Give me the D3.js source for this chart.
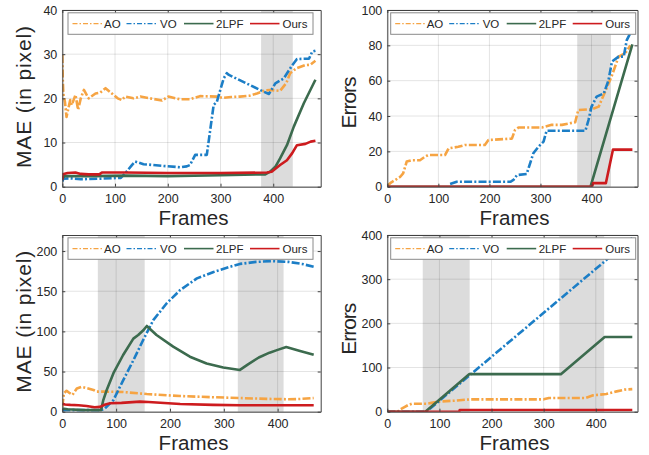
<!DOCTYPE html>
<html>
<head>
    <meta charset="utf-8">
    <script src="https://d3js.org/d3.v7.min.js"></script>
    <style>
        body { margin: 0; background: #fff; }
        svg { display: block; }
        text { font-family: "Liberation Sans", Arial, sans-serif; fill: #262626; }
    </style>
</head>
<body>
    <div id="chart"></div>
    <script>
        // series names and legend
        const seriesNames = ["AO", "VO", "2LPF", "Ours"];
        const xTicks = [0, 100, 200, 300, 400];

        // top left: MAE, sequence 1  [frame, value]
        const mae1AO = [[0,29.8],[1,24],[2,21],[5,19.2],[8,15.8],[12,18],[15,19.6],[18,18.5],[25,20.8],[30,17.4],[35,20],[41,21.9],[50,20],[63,21.1],[72,21.3],[82,22.3],[94,21.1],[105,20],[113,19.6],[119,20.4],[135,20],[148,20.4],[167,20],[189,19.5],[201,20.4],[223,19.8],[242,19.8],[261,20.5],[293,20.4],[305,20.1],[320,20.3],[337,20.4],[355,20.6],[369,21.1],[385,21.8],[394,21.9],[413,21.7],[425,23.5],[432,25.7],[444,26.8],[460,27.5],[470,27.6],[480,28.5]];
        const mae1VO = [[0,1.2],[2,1.8],[15,1.9],[35,1.7],[67,1.8],[111,2],[119,3],[132,4.9],[138,5.7],[154,5.1],[192,4.7],[223,4.4],[236,4.6],[242,4.9],[252,7.2],[274,7.2],[287,18.5],[293,19.2],[306,24.5],[312,25.7],[316,25.3],[382,21.5],[392,21],[404,23.4],[420,24.5],[436,27.5],[445,28.9],[468,29],[474,30.6],[480,30.8]];
        const mae1LPF = [[0,2],[5,2.4],[60,2.4],[120,2.5],[200,2.4],[300,2.6],[385,2.8],[394,3.4],[404,4.5],[413,6.4],[426,9.4],[439,13.6],[458,18.9],[480,24.2]];
        const mae1Ours = [[0,1.5],[1,2.8],[10,3.1],[25,3.2],[35,2.9],[50,2.8],[70,2.8],[75,3.2],[120,3.2],[200,3.1],[300,3.1],[388,3.2],[397,3.4],[413,4.9],[426,6],[436,7.6],[445,9.4],[461,9.7],[471,10.2],[480,10.4]];
        const mae1Shade = [[377, 437]];

        // top right: errors, sequence 1
        const err1AO = [[0,0.5],[8,2.5],[25,5.5],[31,7.5],[38,14.2],[48,15],[64,15],[74,17],[80,17.9],[113,17.9],[120,21.7],[139,22.6],[152,23.6],[191,23.6],[198,26.4],[244,27.2],[250,32],[257,33.5],[303,33.5],[322,35],[342,35],[368,36.5],[374,43.4],[400,43.8],[414,45.3],[424,52],[440,63],[453,73.6],[466,75.5],[476,80]];
        const err1VO = [[123,1.5],[136,2.8],[241,2.8],[247,3.8],[254,6.6],[273,7.2],[286,18.9],[296,22.6],[306,25.5],[312,31.7],[388,31.7],[394,37.7],[400,45.3],[410,51],[424,52.8],[433,60],[440,70.8],[453,73.6],[463,73.6],[469,83],[476,87]];
        const err1LPF = [[0,0],[398,0],[480,80.5]];
        const err1Ours = [[0,0],[401,0],[403,2],[428,2],[442,21],[480,21]];
        const err1Shade = [[372, 438]];

        // bottom left: MAE, sequence 2
        const mae2AO = [[0,6],[3,23],[8,26],[14,23],[19,21],[27,29],[36,31],[48,29],[58,27],[64,25],[80,25],[113,24.5],[157,22],[219,19.5],[281,18],[330,17],[380,16],[420,15.5],[440,15.8],[467,17]];
        const mae2VO = [[0,2],[72,2],[79,4],[95,14.5],[113,39],[132,64],[150,89],[169,114],[194,135],[219,151.5],[250,166],[281,174],[312,180.5],[330,184],[360,186.5],[390,187.5],[420,186.5],[445,184],[467,180.5]];
        const mae2LPF = [[0,4],[10,3],[40,2],[72,2],[76,14],[82.5,27],[95,48],[113,70.6],[132,91],[141,95.5],[150,101],[157,106.7],[175,95.5],[206,81],[237,68.5],[268,60],[299,55],[330,52],[345,59],[365,67.5],[385,73.5],[400,77],[416,80.5],[440,76],[467,71]];
        const mae2Ours = [[0,10],[5,9],[15,8.5],[30,8],[45,7],[60,5.5],[70,6],[80,9],[89,10.5],[110,11],[144,12.5],[160,12],[219,9.5],[280,8.5],[330,8],[400,8],[467,8]];
        const mae2Shade = [[66, 153], [326, 411]];

        // bottom right: errors, sequence 2
        const err2AO = [[0,0],[20,0],[25,5],[32,10],[40,15],[47,18],[75,18],[85,20],[100,23],[130,25],[160,28],[300,28],[310,31],[380,31],[395,37],[420,40],[440,46],[455,50],[470,51]];
        const err2VO = [[0,0],[75,0],[470,393]];
        const err2LPF = [[0,0],[73,0],[157,85],[333,85],[417,169],[470,169]];
        const err2Ours = [[0,0],[138,0],[139,4],[470,4]];
        const err2Shade = [[68, 158], [330, 416]];

        const colors = { "AO": "#F6A443", "VO": "#1C7EC6", "2LPF": "#3C6B4E", "Ours": "#CD1B1E" };
        const dashes = { "AO": "8,2.2,2,2.2", "VO": "8,2.2,2,2.2", "2LPF": null, "Ours": null };

        const panels = [
            { left: 62.3, right: 320.7, top: 10, bottom: 186.7, xMax: 490, yMax: 40, yTicks: [0,10,20,30,40],
              yLabel: "MAE (in pixel)", yLabelLen: 142, yLabelY: 97, shade: mae1Shade,
              data: [mae1AO, mae1VO, mae1LPF, mae1Ours] },
            { left: 387.3, right: 637.5, top: 10, bottom: 186.7, xMax: 490, yMax: 100, yTicks: [0,20,40,60,80,100],
              yLabel: "Errors", yLabelLen: 52, yLabelY: 102.5, shade: err1Shade,
              data: [err1AO, err1VO, err1LPF, err1Ours] },
            { left: 62.3, right: 320.7, top: 235, bottom: 411.7, xMax: 480, yMax: 220, yTicks: [0,50,100,150,200],
              yLabel: "MAE (in pixel)", yLabelLen: 142, yLabelY: 321.7, shade: mae2Shade,
              data: [mae2AO, mae2VO, mae2LPF, mae2Ours] },
            { left: 387.3, right: 637.5, top: 235, bottom: 411.7, xMax: 480, yMax: 400, yTicks: [0,100,200,300,400],
              yLabel: "Errors", yLabelLen: 52, yLabelY: 328.7, shade: err2Shade,
              data: [err2AO, err2VO, err2LPF, err2Ours] }
        ];

        const svg = d3.select("#chart")
            .append("svg")
            .attr("width", 649)
            .attr("height", 455);

        panels.forEach((p, i) => {
            const x = d3.scaleLinear().domain([0, p.xMax]).range([p.left, p.right]);
            const y = d3.scaleLinear().domain([0, p.yMax]).range([p.bottom, p.top]);
            const g = svg.append("g");
            const clipId = "clip" + i;

            g.append("clipPath").attr("id", clipId)
                .append("rect")
                .attr("x", p.left).attr("y", p.top)
                .attr("width", p.right - p.left).attr("height", p.bottom - p.top);

            // shaded frame ranges
            g.selectAll("rect.shade")
                .data(p.shade)
                .enter()
                .append("rect")
                .attr("class", "shade")
                .attr("x", d => x(d[0]))
                .attr("width", d => x(d[1]) - x(d[0]))
                .attr("y", p.top)
                .attr("height", p.bottom - p.top)
                .style("fill", "#dcdcdc");

            // grid
            g.selectAll("line.gx")
                .data(xTicks)
                .enter()
                .append("line")
                .attr("x1", d => x(d)).attr("x2", d => x(d))
                .attr("y1", p.top).attr("y2", p.bottom)
                .style("stroke", "rgba(0,0,0,0.11)");
            g.selectAll("line.gy")
                .data(p.yTicks)
                .enter()
                .append("line")
                .attr("x1", p.left).attr("x2", p.right)
                .attr("y1", d => y(d)).attr("y2", d => y(d))
                .style("stroke", "rgba(0,0,0,0.11)");

            // lines
            const line = d3.line().x(d => x(d[0])).y(d => y(d[1]));
            const lines = g.append("g").attr("clip-path", "url(#" + clipId + ")");
            p.data.forEach((s, k) => {
                const name = seriesNames[k];
                lines.append("path")
                    .datum(s)
                    .attr("d", line)
                    .style("fill", "none")
                    .style("stroke", colors[name])
                    .style("stroke-width", 2.6)
                    .style("stroke-linejoin", "round")
                    .style("stroke-dasharray", dashes[name]);
            });

            // axes box with inner ticks (top/bottom, left/right)
            const xAxisB = d3.axisBottom(x).tickValues(xTicks).tickSizeInner(-3).tickSizeOuter(0).tickPadding(7);
            const xAxisT = d3.axisTop(x).tickValues(xTicks).tickSizeInner(-3).tickSizeOuter(0).tickFormat("");
            const yAxisL = d3.axisLeft(y).tickValues(p.yTicks).tickSizeInner(-3).tickSizeOuter(0).tickPadding(5);
            const yAxisR = d3.axisRight(y).tickValues(p.yTicks).tickSizeInner(-3).tickSizeOuter(0).tickFormat("");

            [[xAxisB, "translate(0," + p.bottom + ")"], [xAxisT, "translate(0," + p.top + ")"],
             [yAxisL, "translate(" + p.left + ",0)"], [yAxisR, "translate(" + p.right + ",0)"]].forEach(a => {
                const ax = g.append("g").attr("transform", a[1]).call(a[0]);
                ax.select(".domain").style("stroke", "#404040").style("stroke-width", 1);
                ax.selectAll(".tick line").style("stroke", "#404040");
                ax.selectAll(".tick text")
                    .style("font-family", "Liberation Sans, Arial, sans-serif")
                    .style("font-size", "12.5px")
                    .style("fill", "#262626");
            });

            // axis labels
            g.append("text")
                .attr("x", (p.left + p.right) / 2 + 2)
                .attr("y", p.bottom + 38)
                .attr("text-anchor", "middle")
                .attr("textLength", 70)
                .style("font-size", "20.5px")
                .text("Frames");
            g.append("text")
                .attr("transform", "translate(" + (p.left - 31) + "," + p.yLabelY + ") rotate(-90)")
                .attr("text-anchor", "middle")
                .attr("textLength", p.yLabelLen)
                .style("font-size", "21px")
                .text(p.yLabel);

            // legend
            const lg = g.append("g").attr("transform", "translate(" + (p.left + (i % 2 ? 3.4 : 5.7)) + "," + (p.top + 2.8) + ")");
            lg.append("rect")
                .attr("width", 245).attr("height", 21.5)
                .style("fill", "#fff")
                .style("stroke", "#8a8a8a")
                .style("stroke-width", 1);
            const lineX = [4.5, 58.5, 116, 182];
            const textX = [36, 92, 148, 214.5];
            seriesNames.forEach((name, k) => {
                lg.append("line")
                    .attr("x1", lineX[k]).attr("x2", lineX[k] + 29.5)
                    .attr("y1", 10.8).attr("y2", 10.8)
                    .style("stroke", colors[name])
                    .style("stroke-width", dashes[name] ? 1.2 : 1.6)
                    .style("stroke-dasharray", dashes[name] ? "5,2,1.5,2" : null);
                lg.append("text")
                    .attr("x", textX[k])
                    .attr("y", 15)
                    .style("font-size", "11.5px")
                    .text(name);
            });
        });
    </script>
</body>
</html>
